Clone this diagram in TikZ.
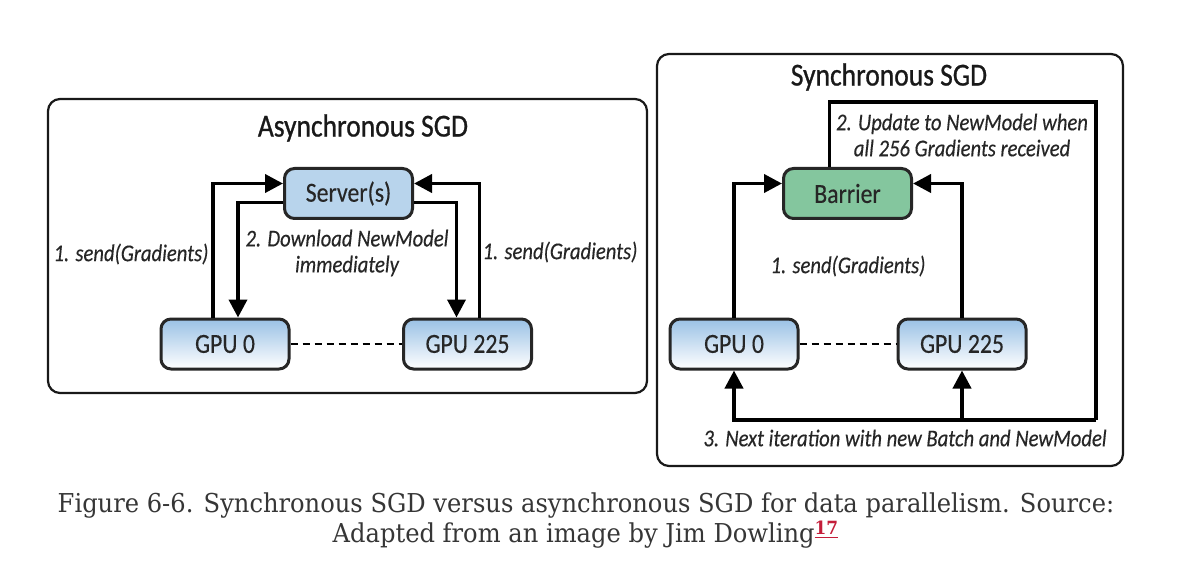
\documentclass[tikz,border=0pt]{standalone}
\usepackage{fontspec}
\setmainfont[FakeStretch=0.93]{DejaVu Serif}
\newfontfamily\diagfont[FakeStretch=0.86,FakeBold=0.3]{Carlito}
\newfontfamily\titlefont[FakeStretch=0.86,FakeBold=0.8]{Carlito}
\usetikzlibrary{arrows.meta,calc}
\definecolor{gpublue}{HTML}{9AC1E5}
\definecolor{serverblue}{HTML}{B8D4EC}
\definecolor{barriergreen}{HTML}{84C69E}
\definecolor{captext}{HTML}{363636}
\definecolor{linkred}{HTML}{C41E3A}
\begin{document}
\begin{tikzpicture}[x=0.5pt,y=-0.5pt,
    frame/.style={draw=black!90, line width=1.1pt, rounded corners=6pt},
    box/.style={draw=black!85, line width=1.5pt, rounded corners=5pt, minimum width=64pt,
      minimum height=25pt, inner sep=0pt, text=black!85, font=\diagfont\fontsize{13.8}{15}\selectfont},
    gpubox/.style={box, top color=gpublue, bottom color=white},
    title/.style={text=black!90, font=\titlefont\fontsize{16}{18}\selectfont},
    lbl/.style={text=black!85, align=center, font=\diagfont\itshape\fontsize{12}{13}\selectfont},
    flow/.style={line width=1.9pt, -{Triangle[length=9pt,width=9pt]}},
    link/.style={line width=1.9pt},
    dots/.style={line width=0.9pt, dash pattern=on 3.5pt off 2.5pt}]
  \useasboundingbox[fill=white] (0,0) rectangle (1186,582);
  %左边: 异步SGD
  \draw[frame] (48,99) rectangle (647,393);
  \node[title] (asynctitle) at (363,128) {Asynchronous SGD};
  \node[box, fill=serverblue] (server) at (348.5,193.5) {Server(s)};
  \node[gpubox] (gpu0L) at (225,344) {GPU 0};
  \node[gpubox] (gpu225L) at (467.5,344) {GPU 225};
  \draw[dots] (gpu0L.east) -- (gpu225L.west);
  %上传梯度和下载模型的箭头
  \draw[flow] ([xshift=-6pt]gpu0L.north) |- ([yshift=5pt]server.west);
  \draw[flow] ([yshift=-4.5pt]server.west) -| ([xshift=6.5pt]gpu0L.north);
  \draw[flow] ([yshift=-4.5pt]server.east) -| ([xshift=-5.5pt]gpu225L.north);
  \draw[flow] ([xshift=6pt]gpu225L.north) |- ([yshift=5pt]server.east);
  \node[lbl] (sendL) at (131,254) {1. send(Gradients)};
  \node[lbl] (sendR) at (560,252) {1. send(Gradients)};
  \node[lbl] (download) at (347,253) {2. Download NewModel\\immediately};
  %右边: 同步SGD
  \draw[frame] (657,54) rectangle (1123,466);
  \node[title] (synctitle) at (889,77) {Synchronous SGD};
  \node[box, fill=barriergreen] (barrier) at (847.5,193.5) {Barrier};
  \node[gpubox] (gpu0R) at (734,344) {GPU 0};
  \node[gpubox] (gpu225R) at (962,344) {GPU 225};
  \draw[dots] (gpu0R.east) -- (gpu225R.west);
  \draw[flow] (gpu0R.north) |- ([yshift=5pt]barrier.west);
  \draw[flow] (gpu225R.north) |- ([yshift=5pt]barrier.east);
  %回到GPU的大回路
  \coordinate (loopTop) at (1096,102);
  \coordinate (loopBot) at (1096,420);
  \draw[link] ([xshift=-9pt]barrier.north) |- (loopTop) -- (loopBot);
  \draw[flow] (loopBot) -| (gpu0R.south);
  \draw[flow] (loopBot -| gpu225R.south) -- (gpu225R.south);
  \node[lbl] (update) at (962,135) {2. Update to NewModel when\\all 256 Gradients received};
  \node[lbl] (sendS) at (848,266) {1. send(Gradients)};
  \node[lbl] (nextiter) at (905,438) {3. Next iteration with new Batch and NewModel};
  %图注
  \node[text=captext, align=center, font=\fontsize{13}{15}\selectfont] (caption) at (586,521)
    {Figure 6-6. Synchronous SGD versus asynchronous SGD for data parallelism. Source:\\
     Adapted from an image by Jim Dowling\textsuperscript{\textcolor{linkred}{\textbf{\underline{17}}}}};
\end{tikzpicture}
\end{document}
